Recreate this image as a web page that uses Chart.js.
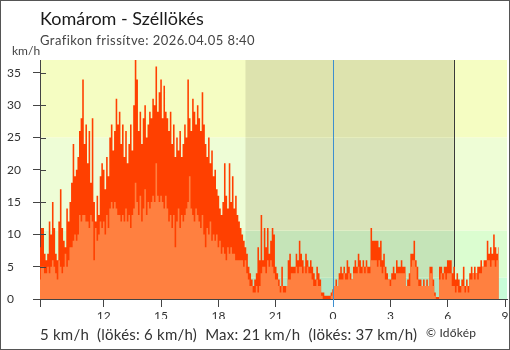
<!DOCTYPE html>
<html>
<head>
<meta charset="utf-8">
<title>Komárom - Széllökés</title>
<script src="https://cdn.jsdelivr.net/npm/chart.js@4.4.1/dist/chart.umd.min.js"></script>
<style>
  html, body { margin: 0; padding: 0; background: #fff; }
  #wrap { position: relative; width: 510px; height: 350px; }
  #myChart { display: block; }
  #frame { position: absolute; left: 0; top: 0; width: 508px; height: 348px; border: 1px solid #555; pointer-events: none; }
</style>
</head>
<body>
<div id="wrap">
  <canvas id="myChart" width="510" height="350"></canvas>
  <div id="frame"></div>
</div>
<script>
// readings every 5 minutes, starting 08:40 the day before
var stepMinutes = 5;

// wind gust, km/h
var gust = [
  8, 11, 11, 7, 6, 7, 12, 10, 15, 11,
  7, 6, 12, 17, 11, 9, 8, 14, 12, 15,
  18, 24, 19, 20, 22, 26, 28, 34, 24, 27,
  21, 26, 18, 28, 15, 12, 16, 13, 19, 21,
  20, 17, 22, 19, 25, 27, 23, 26, 31, 27,
  29, 24, 27, 22, 26, 21, 24, 27, 23, 30,
  37, 34, 26, 29, 24, 28, 30, 25, 27, 29,
  28, 31, 30, 36, 29, 32, 34, 28, 33, 29,
  28, 26, 29, 24, 27, 22, 25, 23, 26, 22,
  24, 27, 25, 34, 28, 26, 31, 29, 27, 30,
  28, 26, 32, 27, 24, 22, 25, 21, 23, 19,
  20, 17, 16, 14, 13, 15, 21, 16, 14, 21,
  15, 19, 14, 16, 13, 12, 11, 10, 9, 8,
  7, 5, 4, 3, 2, 3, 4, 8, 6, 13,
  6, 11, 8, 11, 7, 9, 11, 10, 5, 4,
  3, 2, 5, 2, 2, 2, 6, 7, 5, 5,
  5, 7, 6, 9, 7, 6, 5, 7, 6, 5,
  6, 5, 4, 3, 5, 4, 3, 1, 1, 0.5,
  0.5, 0.5, 0.5, 1, 1.5, 2, 3, 2, 4, 5,
  4, 5, 4, 6, 5, 4, 3, 5, 6, 5,
  7, 6, 5, 6, 5, 6, 5, 5, 11, 9,
  9, 9, 9, 8, 9, 6, 7, 5, 4, 3,
  3, 4, 5, 4, 6, 5, 5, 6, 5, 5,
  2, 3, 4, 7, 7, 9, 6, 5, 3, 3,
  2, 3, 2, 3, 2, 5, 5, 3, 1, 0.3,
  0.3, 5, 5, 4, 5, 5, 6, 6, 6, 4,
  5, 3, 4, 3, 2, 3, 5, 2, 3, 2,
  4, 5, 4, 5, 4, 5, 5, 6, 5, 6,
  6, 9, 7, 8, 7, 10, 8, 7, 8
];

// average wind speed, km/h
var speed = [
  3, 5, 5, 4, 4, 5, 4, 5, 6, 5,
  4, 3, 6, 5, 4, 5, 7, 5, 6, 8,
  8, 9, 10, 9, 10, 13, 12, 13, 13, 12,
  12, 11, 13, 12, 6, 11, 9, 10, 12, 11,
  12, 10, 13, 11, 14, 15, 14, 15, 14, 13,
  13, 12, 13, 12, 14, 12, 13, 11, 13, 14,
  18, 15, 13, 16, 12, 14, 17, 13, 15, 14,
  15, 16, 15, 21, 16, 15, 16, 15, 14, 16,
  14, 12, 13, 11, 13, 8, 12, 14, 11, 13,
  12, 13, 14, 15, 19, 14, 13, 12, 14, 13,
  12, 11, 13, 10, 8, 11, 10, 12, 9, 10,
  9, 10, 8, 9, 7, 8, 7, 6, 8, 7,
  8, 7, 7, 6, 6, 6, 6, 6, 5, 6,
  4, 3, 2, 2, 1, 1, 2, 1, 2, 4,
  5, 5, 4, 6, 5, 6, 5, 4, 3, 3,
  2, 1, 2, 1, 1, 2, 3, 3, 4, 4,
  4, 5, 4, 5, 5, 4, 5, 4, 5, 4,
  4, 3, 2, 2, 3, 2, 2, 0.5, 0, 0,
  0, 0, 0, 0.5, 1, 2, 2, 2, 3, 3,
  3, 4, 3, 3, 4, 3, 3, 4, 4, 4,
  5, 4, 4, 5, 4, 5, 4, 4, 6, 6,
  6, 6, 5, 6, 5, 4, 5, 3, 3, 3,
  2, 3, 3, 3, 4, 4, 4, 4, 4, 4,
  2, 2, 2, 5, 6, 6, 5, 3, 2, 2,
  2, 2, 2, 2, 2, 4, 4, 2, 0.5, 0,
  0, 3, 4, 3, 4, 3, 4, 4, 4, 2,
  2, 1, 2, 1, 1, 2, 2, 1, 2, 1,
  3, 3, 4, 3, 4, 3, 4, 4, 5, 5,
  5, 6, 6, 5, 6, 6, 5, 6, 6
];

// x axis: minutes after 08:40
var tickMinutes = [0, 200, 380, 560, 740, 920, 1100, 1280, 1460];
var tickLabels = ['', '12', '15', '18', '21', '0', '3', '6', '9'];
var midnight = 920;
var nightStart = 645;   // sunset
var nightEnd = 1299;    // sunrise

// y axis ticks, km/h
var yTickValues = [0, 5, 10, 15, 20, 25, 30, 35];

// wind zones, km/h
var zoneLimits = [3.3, 10.6, 25, 37];

var dayColors = ['#c8fdd8', '#dbfdd0', '#eefdd6', '#f5fdc2'];
var nightColors = ['#b3e4c2', '#c5e4b8', '#d9e3b9', '#dde3ae'];

var fontName = 'Lato, "Noto Sans", sans-serif';

function toPoints(values) {
  var pts = [];
  for (var i = 0; i < values.length; i++) {
    pts.push({ x: i * stepMinutes, y: values[i] });
  }
  return pts;
}

var zonesPlugin = {
  id: 'zones',
  beforeDraw: function(chart) {
    var ctx = chart.ctx, a = chart.chartArea, x = chart.scales.x, y = chart.scales.y;
    var n0 = x.getPixelForValue(nightStart), n1 = x.getPixelForValue(nightEnd);
    ctx.save();
    for (var i = 0; i < zoneLimits.length; i++) {
      var lo = i === 0 ? 0 : zoneLimits[i - 1];
      var top = y.getPixelForValue(zoneLimits[i]);
      var bottom = y.getPixelForValue(lo);
      ctx.fillStyle = dayColors[i];
      ctx.fillRect(a.left, top, a.right - a.left, bottom - top);
      ctx.fillStyle = nightColors[i];
      ctx.fillRect(n0, top, n1 - n0, bottom - top);
    }
    ctx.restore();
  },
  beforeDatasetsDraw: function(chart) {
    var ctx = chart.ctx, a = chart.chartArea, x = chart.scales.x;
    var sx = Math.round(x.getPixelForValue(nightEnd)) + 0.5;
    ctx.save();
    ctx.strokeStyle = '#3a3a3a';
    ctx.lineWidth = 1;
    ctx.beginPath();
    ctx.moveTo(sx, a.top);
    ctx.lineTo(sx, a.bottom);
    ctx.stroke();
    ctx.restore();
  },
  afterDraw: function(chart) {
    var ctx = chart.ctx, a = chart.chartArea, x = chart.scales.x, y = chart.scales.y;
    ctx.save();
    // midnight line
    var mx = Math.round(x.getPixelForValue(midnight)) + 0.5;
    ctx.strokeStyle = '#3d8fd0';
    ctx.lineWidth = 1;
    ctx.beginPath();
    ctx.moveTo(mx, a.top);
    ctx.lineTo(mx, a.bottom + 8);
    ctx.stroke();
    // y ticks also reach into the plot
    ctx.strokeStyle = '#444';
    y.ticks.forEach(function(t) {
      var py = Math.round(y.getPixelForValue(t.value)) + 0.5;
      ctx.beginPath();
      ctx.moveTo(a.left, py);
      ctx.lineTo(a.left + 6, py);
      ctx.stroke();
    });
    // texts
    ctx.textBaseline = 'alphabetic';
    ctx.textAlign = 'left';
    ctx.fillStyle = '#1a1a1a';
    ctx.font = '18px ' + fontName;
    ctx.fillText('Komárom - Széllökés', 40, 25);
    ctx.fillStyle = '#444';
    ctx.font = '13px ' + fontName;
    ctx.letterSpacing = '0.45px';
    ctx.fillText('Grafikon frissítve: 2026.04.05 8:40', 40, 45);
    ctx.letterSpacing = '0px';
    ctx.font = '12px ' + fontName;
    ctx.fillText('km/h', 12, 55);
    ctx.fillStyle = '#333';
    ctx.font = '15px ' + fontName;
    ctx.letterSpacing = '0.22px';
    ctx.fillText('5 km/h  (lökés: 6 km/h)  Max: 21 km/h  (lökés: 37 km/h)', 40, 340);
    ctx.letterSpacing = '0.2px';
    ctx.font = '12px ' + fontName;
    ctx.fillText('© Időkép', 426, 337);
    ctx.restore();
  }
};

var ctx = document.getElementById('myChart');
var chart = new Chart(ctx, {
  type: 'line',
  data: {
    datasets: [{
      label: 'Széllökés',
      data: toPoints(gust),
      backgroundColor: '#ff4000',
      borderWidth: 0,
      pointRadius: 0,
      stepped: 'middle',
      fill: 'origin',
      order: 2
    }, {
      label: 'Szélsebesség',
      data: toPoints(speed),
      backgroundColor: '#ff8040',
      borderWidth: 0,
      pointRadius: 0,
      stepped: 'middle',
      fill: 'origin',
      order: 1
    }]
  },
  options: {
    responsive: false,
    animation: false,
    devicePixelRatio: 1,
    layout: { padding: { left: 7, right: 3, top: 60, bottom: 31 } },
    plugins: {
      legend: { display: false },
      tooltip: { enabled: false }
    },
    scales: {
      x: {
        type: 'linear',
        min: 0,
        max: 1466,
        z: 1,
        afterBuildTicks: function(scale) {
          scale.ticks = tickMinutes.map(function(v) { return { value: v }; });
        },
        afterFit: function(scale) {
          scale.height = 20;
          scale.paddingLeft = 0;
          scale.paddingRight = 0;
        },
        ticks: {
          autoSkip: false,
          maxRotation: 0,
          padding: 2,
          color: '#333',
          font: { family: fontName, size: 12 },
          callback: function(value, index) { return tickLabels[index]; }
        },
        grid: { drawOnChartArea: false, drawTicks: true, tickLength: 8, color: '#444' },
        border: { display: true, color: '#444', width: 1 }
      },
      y: {
        min: 0,
        max: 37,
        z: 1,
        afterBuildTicks: function(scale) {
          scale.ticks = yTickValues.map(function(v) { return { value: v }; });
        },
        afterFit: function(scale) { scale.width = 33; },
        ticks: {
          crossAlign: 'far',
          color: '#333',
          font: { family: fontName, size: 12 }
        },
        grid: { drawOnChartArea: false, drawTicks: true, tickLength: 7, color: '#444' },
        border: { display: true, color: '#444', width: 1 }
      }
    }
  },
  plugins: [zonesPlugin]
});
</script>
</body>
</html>
